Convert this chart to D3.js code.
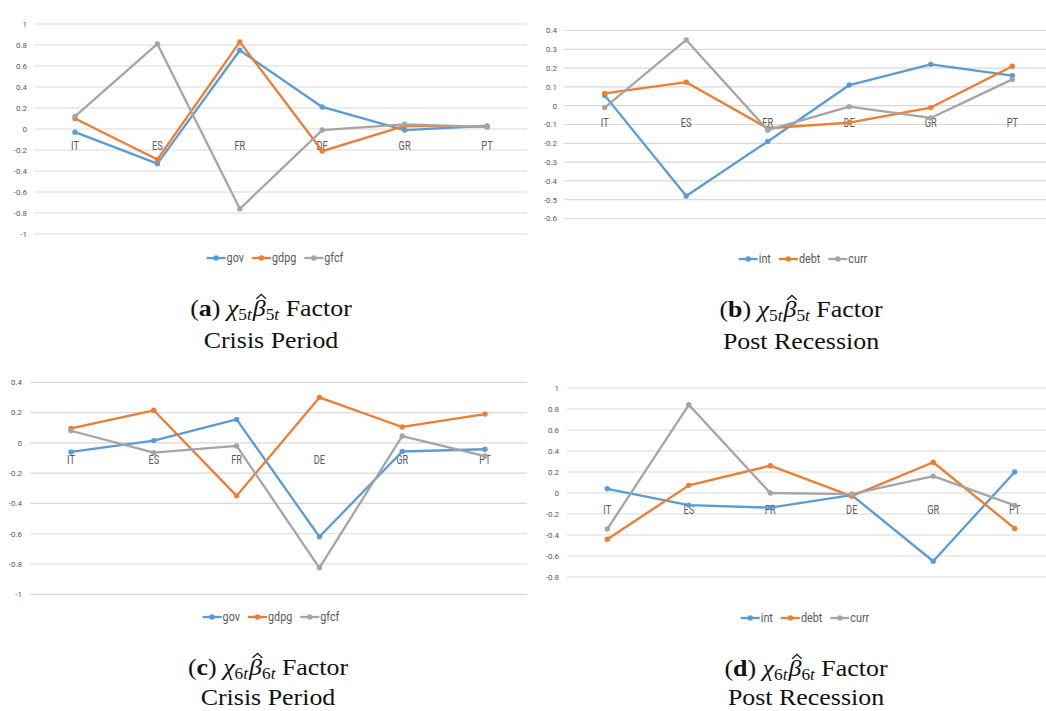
<!DOCTYPE html>
<html>
<head>
<meta charset="utf-8">
<script src="https://cdn.jsdelivr.net/npm/d3@7"></script>
<style>
  html, body { margin: 0; padding: 0; background: #ffffff; }
  svg { display: block; }
</style>
</head>
<body>
<svg id="chart" width="1046" height="711"></svg>
<script>
// ---------------- DATA ----------------
const categories = ["IT", "ES", "FR", "DE", "GR", "PT"];

// (a) Crisis Period, factor 5
const aGov  = [-0.03, -0.33, 0.75, 0.21, -0.01, 0.03];
const aGdpg = [0.10, -0.29, 0.83, -0.21, 0.03, 0.02];
const aGfcf = [0.12, 0.81, -0.76, -0.01, 0.045, 0.02];

// (b) Post Recession, factor 5
const bInt  = [0.055, -0.48, -0.19, 0.11, 0.22, 0.16];
const bDebt = [0.065, 0.125, -0.12, -0.09, -0.01, 0.21];
const bCurr = [-0.01, 0.35, -0.13, -0.005, -0.065, 0.14];

// (c) Crisis Period, factor 6
const cGov  = [-0.06, 0.015, 0.155, -0.62, -0.057, -0.042];
const cGdpg = [0.095, 0.215, -0.35, 0.30, 0.105, 0.19];
const cGfcf = [0.08, -0.065, -0.02, -0.825, 0.045, -0.087];

// (d) Post Recession, factor 6
const dInt  = [0.04, -0.115, -0.14, -0.02, -0.65, 0.20];
const dDebt = [-0.44, 0.073, 0.26, -0.03, 0.293, -0.337];
const dCurr = [-0.343, 0.84, 0.0, -0.01, 0.16, -0.118];

const seriesNamesCrisis = ["gov", "gdpg", "gfcf"];
const seriesNamesPost = ["int", "debt", "curr"];

const ticksA = [-1, -0.8, -0.6, -0.4, -0.2, 0, 0.2, 0.4, 0.6, 0.8, 1];
const ticksB = [-0.6, -0.5, -0.4, -0.3, -0.2, -0.1, 0, 0.1, 0.2, 0.3, 0.4];
const ticksC = [-1, -0.8, -0.6, -0.4, -0.2, 0, 0.2, 0.4];
const ticksD = [-0.8, -0.6, -0.4, -0.2, 0, 0.2, 0.4, 0.6, 0.8, 1];

const captionLetters = ["a", "b", "c", "d"];
const captionIndex = ["5", "5", "6", "6"];
const captionLine2 = ["Crisis Period", "Post Recession", "Crisis Period", "Post Recession"];

// ---------------- STYLE ----------------
const colors = ["#5B9BD5", "#ED7D31", "#A5A5A5"];
const sansFont = "Roboto, 'Liberation Sans', sans-serif";
const serifFont = "'Liberation Serif', 'DejaVu Serif', serif";

const svg = d3.select("#chart");

function fmt(v) {
  const r = Math.round(v * 10) / 10;
  return r === 0 ? "0" : String(r);
}

function drawPanel(cfg) {
  const g = svg.append("g");
  const x = d3.scalePoint().domain(categories).range(cfg.xRange);
  const y = d3.scaleLinear().domain(cfg.yDomain).range(cfg.yRange);

  // gridlines
  g.append("g").selectAll("line").data(cfg.ticks).join("line")
    .attr("x1", cfg.gridX[0]).attr("x2", cfg.gridX[1])
    .attr("y1", d => y(d)).attr("y2", d => y(d))
    .attr("stroke", "#d9d9d9").attr("stroke-width", 1.2);

  // y tick labels
  g.append("g").selectAll("text").data(cfg.ticks).join("text")
    .attr("x", cfg.tickX).attr("y", d => y(d))
    .attr("dy", "0.35em")
    .attr("text-anchor", "end")
    .attr("font-family", sansFont).attr("font-size", 8)
    .attr("fill", "#595959")
    .text(d => fmt(d));

  // category labels (below zero line)
  g.append("g").selectAll("text").data(categories).join("text")
    .attr("transform", d => `translate(${x(d)},${y(0) + 21}) scale(0.74,1)`)
    .attr("text-anchor", "middle")
    .attr("font-family", sansFont).attr("font-size", 12.5)
    .attr("fill", "#595959")
    .text(d => d);

  const line = d3.line().x((d, i) => x(categories[i])).y(d => y(d));

  cfg.series.forEach((vals, si) => {
    g.append("path").datum(vals)
      .attr("d", line)
      .attr("fill", "none")
      .attr("stroke", colors[si]).attr("stroke-width", 2.3)
      .attr("stroke-linejoin", "round");
    g.append("g").selectAll("circle").data(vals).join("circle")
      .attr("cx", (d, i) => x(categories[i]))
      .attr("cy", d => y(d))
      .attr("r", 2.7)
      .attr("fill", colors[si]);
  });

  // legend
  const leg = g.append("g");
  const lineLen = 19, textGap = 1, itemGap = 8, textScale = 0.9;
  const items = cfg.names.map((name, i) => {
    const t = leg.append("text")
      .attr("font-family", sansFont).attr("font-size", 12)
      .attr("fill", "#595959")
      .text(name);
    const w = t.node().getComputedTextLength() * textScale;
    return { t, w, i };
  });
  const total = d3.sum(items, d => lineLen + textGap + d.w) + itemGap * (items.length - 1);
  let cx = cfg.legendCenter - total / 2;
  items.forEach(it => {
    leg.append("line")
      .attr("x1", cx).attr("x2", cx + lineLen)
      .attr("y1", cfg.legendY).attr("y2", cfg.legendY)
      .attr("stroke", colors[it.i]).attr("stroke-width", 2.3);
    leg.append("circle")
      .attr("cx", cx + lineLen / 2).attr("cy", cfg.legendY).attr("r", 2.7)
      .attr("fill", colors[it.i]);
    it.t.attr("transform", `translate(${cx + lineLen + textGap},${cfg.legendY + 4}) scale(${textScale},1)`);
    cx += lineLen + textGap + it.w + itemGap;
  });

  // caption
  const k = cfg.idx;
  const cap = g.append("g")
    .attr("font-family", serifFont).attr("font-size", 24).attr("fill", "#111");
  const l1 = cap.append("g")
    .attr("transform", `translate(${cfg.capX},${cfg.capY1}) scale(1.08,1)`);
  const t1 = l1.append("text").attr("text-anchor", "middle");
  t1.append("tspan").text("(");
  t1.append("tspan").attr("font-weight", "bold").text(captionLetters[k]);
  t1.append("tspan").text(") ");
  t1.append("tspan").attr("font-style", "italic").text("\u03C7");
  t1.append("tspan").attr("font-size", 16).attr("dy", 4).text(captionIndex[k]);
  t1.append("tspan").attr("font-size", 16).attr("font-style", "italic").text("t");
  t1.append("tspan").attr("dy", -4).attr("dx", 1).attr("font-style", "italic").text("\u03B2");
  t1.append("tspan").attr("font-size", 16).attr("dy", 4).text(captionIndex[k]);
  t1.append("tspan").attr("font-size", 16).attr("font-style", "italic").text("t");
  t1.append("tspan").attr("dy", -4).text(" Factor");
  // hat over beta (character index 7)
  const ext = t1.node().getExtentOfChar(7);
  const hx = ext.x + ext.width / 2 + 1.8;
  const hy = ext.y + 3;
  l1.append("path")
    .attr("d", `M${hx - 4.5},${hy + 1} L${hx},${hy - 3.5} L${hx + 4.5},${hy + 1}`)
    .attr("fill", "none").attr("stroke", "#111").attr("stroke-width", 1.3);
  cap.append("text").attr("text-anchor", "middle")
    .attr("transform", `translate(${cfg.capX},${cfg.capY2}) scale(1.08,1)`)
    .text(captionLine2[k]);
}

drawPanel({
  idx: 0, series: [aGov, aGdpg, aGfcf], names: seriesNamesCrisis, ticks: ticksA,
  xRange: [75, 487], yDomain: [-1, 1], yRange: [234, 24], gridX: [34, 527], tickX: 27,
  legendY: 258, legendCenter: 275, capX: 271, capY1: 316, capY2: 348
});
drawPanel({
  idx: 1, series: [bInt, bDebt, bCurr], names: seriesNamesPost, ticks: ticksB,
  xRange: [604.7, 1012.3], yDomain: [-0.6, 0.4], yRange: [218.5, 30.5], gridX: [564, 1046], tickX: 557,
  legendY: 259, legendCenter: 803, capX: 801, capY1: 317, capY2: 349
});
drawPanel({
  idx: 2, series: [cGov, cGdpg, cGfcf], names: seriesNamesCrisis, ticks: ticksC,
  xRange: [71, 485], yDomain: [-1, 0.4], yRange: [594.3, 382.3], gridX: [30, 527], tickX: 22,
  legendY: 617, legendCenter: 271, capX: 268, capY1: 675, capY2: 705
});
drawPanel({
  idx: 3, series: [dInt, dDebt, dCurr], names: seriesNamesPost, ticks: ticksD,
  xRange: [607.3, 1014.7], yDomain: [-0.8, 1], yRange: [577, 388], gridX: [567, 1046], tickX: 559,
  legendY: 618, legendCenter: 805, capX: 806, capY1: 676, capY2: 705
});
</script>
</body>
</html>
